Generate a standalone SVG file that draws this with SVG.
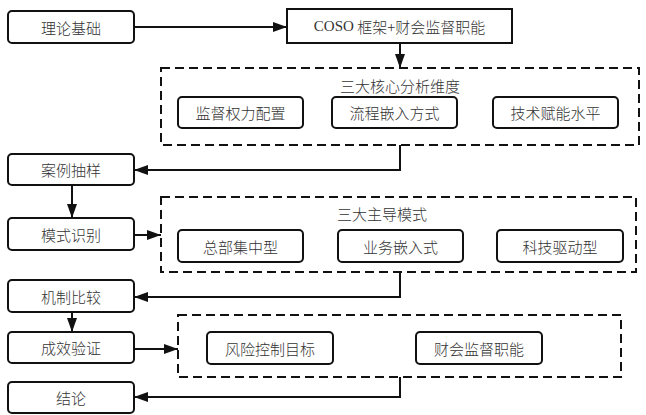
<svg xmlns="http://www.w3.org/2000/svg" width="646" height="415" viewBox="0 0 646 415">
<style>
  .node { fill: #ffffff; stroke: #111111; stroke-width: 2; }
  .group { fill: none; stroke: #111111; stroke-width: 2; stroke-dasharray: 9 5; }
  .label { font-family: "Noto Sans CJK SC", "Liberation Sans", sans-serif; font-size: 15px; font-weight: 300; fill: #333333; text-anchor: middle; dominant-baseline: central; }
  .coso { font-family: "Liberation Serif", "Noto Sans CJK SC", serif; font-weight: 400; }
  .edge { fill: none; stroke: #111111; stroke-width: 2; marker-end: url(#arrow); }
</style>
<defs>
  <marker id="arrow" markerUnits="userSpaceOnUse" markerWidth="14" markerHeight="10" refX="14" refY="5" orient="auto">
    <path d="M0,0 L14,5 L0,10 z" fill="#111111"/>
  </marker>
</defs>
<rect width="646" height="415" fill="#ffffff"/>

<g id="connectors">
  <path class="edge" d="M134,27 L287,27"/>
  <path class="edge" d="M400,43 L400,68"/>
  <path class="edge" d="M400,145 L400,170 L134,170"/>
  <path class="edge" d="M72,185 L72,218"/>
  <path class="edge" d="M134,235 L161,235"/>
  <path class="edge" d="M400,272 L400,297 L134,297"/>
  <path class="edge" d="M72,312 L72,332"/>
  <path class="edge" d="M134,349 L178,349"/>
  <path class="edge" d="M400,377 L400,397 L134,397"/>
</g>

<g id="theory">
  <rect class="node" x="8" y="11" width="126" height="32" rx="4"/>
  <text class="label" x="71" y="27">理论基础</text>
</g>
<g id="coso">
  <rect class="node" x="287" y="9" width="225" height="34"/>
  <text class="label" x="399.5" y="26"><tspan class="coso">COSO</tspan> 框架+财会监督职能</text>
</g>

<g id="dimensions">
  <rect class="group" x="161" y="68" width="478" height="77"/>
  <text class="label" x="400" y="85">三大核心分析维度</text>
</g>
<g id="dim-power">
  <rect class="node" x="178" y="97" width="125" height="31" rx="4"/>
  <text class="label" x="240.5" y="112.5">监督权力配置</text>
</g>
<g id="dim-process">
  <rect class="node" x="332" y="97" width="125" height="31" rx="4"/>
  <text class="label" x="394.5" y="112.5">流程嵌入方式</text>
</g>
<g id="dim-tech">
  <rect class="node" x="493" y="97" width="125" height="31" rx="4"/>
  <text class="label" x="555.5" y="112.5">技术赋能水平</text>
</g>

<g id="sampling">
  <rect class="node" x="8" y="154" width="126" height="31" rx="4"/>
  <text class="label" x="71" y="169.5">案例抽样</text>
</g>
<g id="identify">
  <rect class="node" x="8" y="218" width="126" height="32" rx="4"/>
  <text class="label" x="71" y="234">模式识别</text>
</g>

<g id="modes">
  <rect class="group" x="161" y="197" width="475" height="75"/>
  <text class="label" x="382" y="213">三大主导模式</text>
</g>
<g id="mode-hq">
  <rect class="node" x="178" y="230" width="125" height="32" rx="4"/>
  <text class="label" x="240.5" y="246">总部集中型</text>
</g>
<g id="mode-biz">
  <rect class="node" x="338" y="230" width="125" height="32" rx="4"/>
  <text class="label" x="400.5" y="246">业务嵌入式</text>
</g>
<g id="mode-tech">
  <rect class="node" x="497" y="230" width="126" height="32" rx="4"/>
  <text class="label" x="560" y="246">科技驱动型</text>
</g>

<g id="compare">
  <rect class="node" x="8" y="280" width="126" height="32" rx="4"/>
  <text class="label" x="71" y="296">机制比较</text>
</g>
<g id="verify">
  <rect class="node" x="8" y="332" width="126" height="31" rx="4"/>
  <text class="label" x="71" y="347.5">成效验证</text>
</g>

<g id="targets">
  <rect class="group" x="178" y="315" width="443" height="62"/>
</g>
<g id="risk">
  <rect class="node" x="207" y="332" width="126" height="32" rx="4"/>
  <text class="label" x="270" y="348">风险控制目标</text>
</g>
<g id="supervise">
  <rect class="node" x="416" y="332" width="126" height="32" rx="4"/>
  <text class="label" x="479" y="348">财会监督职能</text>
</g>

<g id="conclusion">
  <rect class="node" x="8" y="382" width="126" height="31" rx="4"/>
  <text class="label" x="71" y="397.5">结论</text>
</g>
</svg>
